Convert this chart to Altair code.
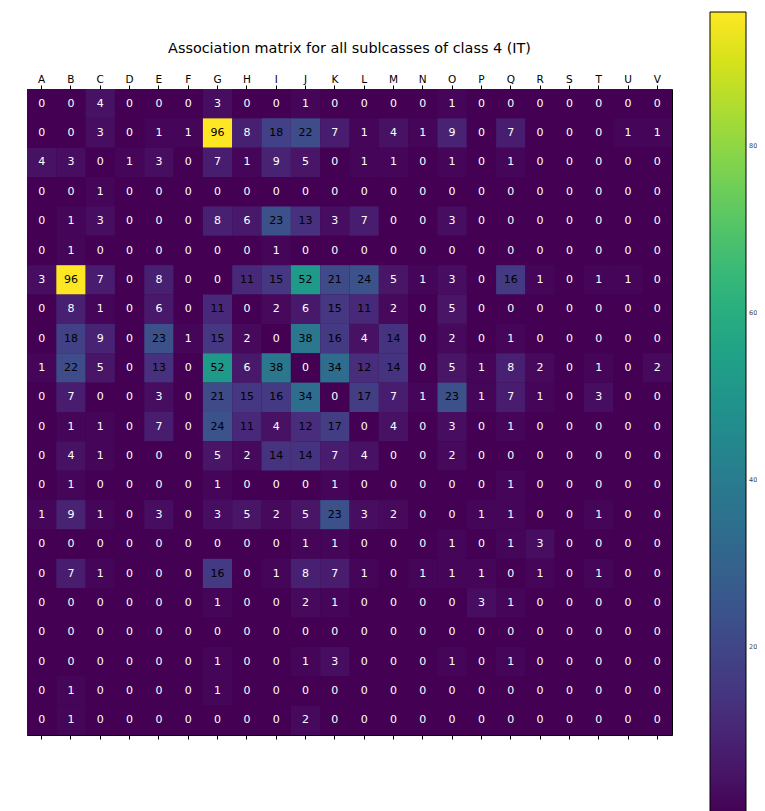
import altair as alt
import pandas as pd

labels = list("ABCDEFGHIJKLMNOPQRSTUV")

row_A = [0, 0, 4, 0, 0, 0, 3, 0, 0, 1, 0, 0, 0, 0, 1, 0, 0, 0, 0, 0, 0, 0]
row_B = [0, 0, 3, 0, 1, 1, 96, 8, 18, 22, 7, 1, 4, 1, 9, 0, 7, 0, 0, 0, 1, 1]
row_C = [4, 3, 0, 1, 3, 0, 7, 1, 9, 5, 0, 1, 1, 0, 1, 0, 1, 0, 0, 0, 0, 0]
row_D = [0, 0, 1, 0, 0, 0, 0, 0, 0, 0, 0, 0, 0, 0, 0, 0, 0, 0, 0, 0, 0, 0]
row_E = [0, 1, 3, 0, 0, 0, 8, 6, 23, 13, 3, 7, 0, 0, 3, 0, 0, 0, 0, 0, 0, 0]
row_F = [0, 1, 0, 0, 0, 0, 0, 0, 1, 0, 0, 0, 0, 0, 0, 0, 0, 0, 0, 0, 0, 0]
row_G = [3, 96, 7, 0, 8, 0, 0, 11, 15, 52, 21, 24, 5, 1, 3, 0, 16, 1, 0, 1, 1, 0]
row_H = [0, 8, 1, 0, 6, 0, 11, 0, 2, 6, 15, 11, 2, 0, 5, 0, 0, 0, 0, 0, 0, 0]
row_I = [0, 18, 9, 0, 23, 1, 15, 2, 0, 38, 16, 4, 14, 0, 2, 0, 1, 0, 0, 0, 0, 0]
row_J = [1, 22, 5, 0, 13, 0, 52, 6, 38, 0, 34, 12, 14, 0, 5, 1, 8, 2, 0, 1, 0, 2]
row_K = [0, 7, 0, 0, 3, 0, 21, 15, 16, 34, 0, 17, 7, 1, 23, 1, 7, 1, 0, 3, 0, 0]
row_L = [0, 1, 1, 0, 7, 0, 24, 11, 4, 12, 17, 0, 4, 0, 3, 0, 1, 0, 0, 0, 0, 0]
row_M = [0, 4, 1, 0, 0, 0, 5, 2, 14, 14, 7, 4, 0, 0, 2, 0, 0, 0, 0, 0, 0, 0]
row_N = [0, 1, 0, 0, 0, 0, 1, 0, 0, 0, 1, 0, 0, 0, 0, 0, 1, 0, 0, 0, 0, 0]
row_O = [1, 9, 1, 0, 3, 0, 3, 5, 2, 5, 23, 3, 2, 0, 0, 1, 1, 0, 0, 1, 0, 0]
row_P = [0, 0, 0, 0, 0, 0, 0, 0, 0, 1, 1, 0, 0, 0, 1, 0, 1, 3, 0, 0, 0, 0]
row_Q = [0, 7, 1, 0, 0, 0, 16, 0, 1, 8, 7, 1, 0, 1, 1, 1, 0, 1, 0, 1, 0, 0]
row_R = [0, 0, 0, 0, 0, 0, 1, 0, 0, 2, 1, 0, 0, 0, 0, 3, 1, 0, 0, 0, 0, 0]
row_S = [0, 0, 0, 0, 0, 0, 0, 0, 0, 0, 0, 0, 0, 0, 0, 0, 0, 0, 0, 0, 0, 0]
row_T = [0, 0, 0, 0, 0, 0, 1, 0, 0, 1, 3, 0, 0, 0, 1, 0, 1, 0, 0, 0, 0, 0]
row_U = [0, 1, 0, 0, 0, 0, 1, 0, 0, 0, 0, 0, 0, 0, 0, 0, 0, 0, 0, 0, 0, 0]
row_V = [0, 1, 0, 0, 0, 0, 0, 0, 0, 2, 0, 0, 0, 0, 0, 0, 0, 0, 0, 0, 0, 0]

rows = [row_A, row_B, row_C, row_D, row_E, row_F, row_G, row_H, row_I, row_J, row_K,
        row_L, row_M, row_N, row_O, row_P, row_Q, row_R, row_S, row_T, row_U, row_V]

colorbar_ticks = [20, 40, 60, 80]

records = []
for r, vals in zip(labels, rows):
    for c, v in zip(labels, vals):
        records.append({"row": r, "col": c, "value": v})
df = pd.DataFrame(records)
vmax = int(df["value"].max())

xscale = alt.Scale(domain=labels, paddingInner=0, paddingOuter=0)
yscale = alt.Scale(domain=labels, paddingInner=0, paddingOuter=0)

rect = alt.Chart(df).mark_rect().encode(
    x=alt.X("col:O", scale=xscale,
            axis=alt.Axis(orient="top", title=None, labelAngle=0, labelPadding=1)),
    y=alt.Y("row:O", scale=yscale,
            axis=alt.Axis(title=None, labelAngle=0, labelPadding=2)),
    color=alt.Color("value:Q",
                    scale=alt.Scale(scheme="viridis", domain=[0, vmax]),
                    legend=alt.Legend(orient="none", legendX=683, legendY=-77,
                                      direction="vertical", gradientLength=802,
                                      gradientThickness=36, values=colorbar_ticks,
                                      title=None, labelFontSize=6.5, labelColor="#444",
                                      labelOffset=3, gradientStrokeColor="black",
                                      gradientStrokeWidth=1)),
)

text = alt.Chart(df).mark_text(font="DejaVu Sans", fontSize=11).encode(
    x=alt.X("col:O", scale=xscale,
            axis=alt.Axis(orient="bottom", title=None, labels=False)),
    y=alt.Y("row:O", scale=yscale, axis=None),
    text=alt.Text("value:Q"),
    color=alt.condition(alt.datum.value > 10, alt.value("black"), alt.value("white")),
)

chart = alt.layer(rect, text).resolve_axis(x="independent").properties(
    width=645,
    height=646,
    autosize=alt.AutoSizeParams(type="none"),
    padding={"left": 19, "top": 81, "right": 85, "bottom": 76},
    title=alt.TitleParams("Association matrix for all sublcasses of class 4 (IT)",
                          font="DejaVu Sans", fontSize=14.4, fontWeight="normal",
                          color="black", anchor="middle", offset=-44),
).configure_view(stroke="black", strokeWidth=1, fill="#440154").configure_axis(
    labelFont="DejaVu Sans", labelFontSize=10.5, labelColor="black",
    tickColor="black", tickSize=4, domain=False, grid=False,
).configure_legend(gradientVerticalMaxLength=900, labelFont="DejaVu Sans")

chart.save("out.html", embed_options={"renderer": "svg", "actions": False})
